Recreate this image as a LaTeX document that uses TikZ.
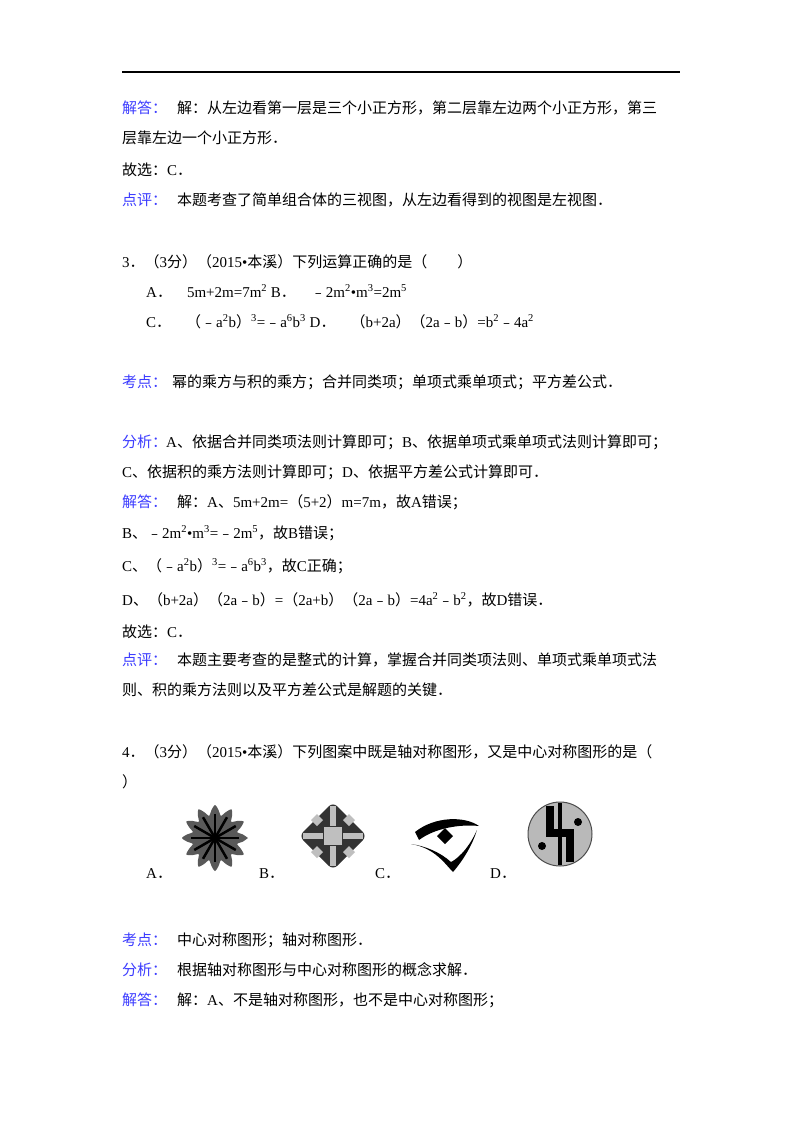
\documentclass[tikz,border=0pt]{standalone}
\usepackage{fontspec}
\setmainfont{Liberation Serif}
\newfontfamily\cjkf{Noto Sans CJK SC}
\newfontfamily\latf{Liberation Serif}
\XeTeXinterchartokenstate=1
\newXeTeXintercharclass\cjkclass
\newcount\cc
\cc="4E00 \loop\XeTeXcharclass\cc=\cjkclass \advance\cc by 1 \ifnum\cc<"A000 \repeat
\cc="3000 \loop\XeTeXcharclass\cc=\cjkclass \advance\cc by 1 \ifnum\cc<"3040 \repeat
\cc="FF00 \loop\XeTeXcharclass\cc=\cjkclass \advance\cc by 1 \ifnum\cc<"FFF0 \repeat
\cc="FE30 \loop\XeTeXcharclass\cc=\cjkclass \advance\cc by 1 \ifnum\cc<"FE70 \repeat
\XeTeXinterchartoks 0 \cjkclass {\cjkf}
\XeTeXinterchartoks 4095 \cjkclass {\cjkf}
\XeTeXinterchartoks \cjkclass 0 {\latf}
\XeTeXinterchartoks \cjkclass 4095 {\latf}
\definecolor{lab}{RGB}{60,60,255}
\newcommand{\su}[1]{\textsuperscript{#1}}
\begin{document}
\begin{tikzpicture}[x=1pt,y=1pt,
  tx/.style={anchor=base west,inner sep=0pt,font=\fontsize{15}{15}\selectfont},
  lb/.style={tx,text=lab}]
\useasboundingbox[fill=white] (0,0) rectangle (800,-1132);
\draw[line width=1.2pt] (122,-72) -- (680,-72);
\node[lb] (l1) at (122,-113) {解答：};
\node[tx] (t1) at (177,-113) {解：从左边看第一层是三个小正方形，第二层靠左边两个小正方形，第三};
\node[tx] (t2) at (122,-143) {层靠左边一个小正方形．};
\node[tx] (t3) at (122,-175) {故选：C．};
\node[lb] (l2) at (122,-205) {点评：};
\node[tx] (t4) at (177,-205) {本题考查了简单组合体的三视图，从左边看得到的视图是左视图．};
\node[tx] (q3) at (122,-267) {3．（3分）（2015•本溪）下列运算正确的是（　　）};
\node[tx] (qa) at (146,-297) {A．　5m+2m=7m\su{2} B．　﹣2m\su{2}•m\su{3}=2m\su{5}};
\node[tx] (qc) at (146,-327) {C．　（﹣a\su{2}b）\su{3}=﹣a\su{6}b\su{3} D．　（b+2a）（2a﹣b）=b\su{2}﹣4a\su{2}};
\node[lb] (l3) at (122,-387) {考点：};
\node[tx] (t5) at (172,-387) {幂的乘方与积的乘方；合并同类项；单项式乘单项式；平方差公式．};
\node[lb] (l4) at (122,-447) {分析：};
\node[tx] (t6) at (166,-447) {A、依据合并同类项法则计算即可；B、依据单项式乘单项式法则计算即可；};
\node[tx] (t7) at (122,-477) {C、依据积的乘方法则计算即可；D、依据平方差公式计算即可．};
\node[lb] (l5) at (122,-507) {解答：};
\node[tx] (t8) at (177,-507) {解：A、5m+2m=（5+2）m=7m，故A错误；};
\node[tx] (t9) at (122,-538) {B、﹣2m\su{2}•m\su{3}=﹣2m\su{5}，故B错误；};
\node[tx] (t10) at (122,-571) {C、（﹣a\su{2}b）\su{3}=﹣a\su{6}b\su{3}，故C正确；};
\node[tx] (t11) at (122,-605) {D、（b+2a）（2a﹣b）=（2a+b）（2a﹣b）=4a\su{2}﹣b\su{2}，故D错误．};
\node[tx] (t12) at (122,-637) {故选：C．};
\node[lb] (l6) at (122,-665) {点评：};
\node[tx] (t13) at (177,-665) {本题主要考查的是整式的计算，掌握合并同类项法则、单项式乘单项式法};
\node[tx] (t14) at (122,-695) {则、积的乘方法则以及平方差公式是解题的关键．};
\node[tx] (q4) at (122,-757) {4．（3分）（2015•本溪）下列图案中既是轴对称图形，又是中心对称图形的是（};
\node[tx] (q4b) at (122,-787) {）};
\node[tx] (fa) at (146,-878) {A．};
\node[tx] (fb) at (259,-878) {B．};
\node[tx] (fc) at (375,-878) {C．};
\node[tx] (fd) at (490,-878) {D．};
% figure A
\begin{scope}[shift={(215,-838)}]
\fill[gray!70!black] plot[smooth cycle,samples=49,domain=0:360] (\x:{28+5*cos(12*\x)});
\foreach \a in {0,30,...,330} \draw[line width=2.5pt,black] (0,0) -- (\a:24);
\end{scope}
% figure B
\begin{scope}[shift={(333,-836)}]
\fill[black!80,rounded corners=6pt] (0,-34) -- (34,0) -- (0,34) -- (-34,0) -- cycle;
\fill[gray!50] (-9,-9) rectangle (9,9);
\foreach \r in {0,90,180,270} {
 \begin{scope}[rotate=\r]
 \fill[gray!50] (-3,10) rectangle (3,30);
 \fill[gray!50] (10,16) -- (16,10) -- (22,16) -- (16,22) -- cycle;
 \end{scope}}
\end{scope}
% figure C
\begin{scope}[shift={(445,-838)}]
\fill[black] (-30,6) .. controls (-10,22) and (20,22) .. (34,12) .. controls (15,14) and (-10,10) .. (-26,-2) -- cycle;
\fill[black] (-34,-6) .. controls (-10,-10) and (0,-26) .. (8,-34) .. controls (20,-20) and (28,-5) .. (32,8) .. controls (22,-14) and (10,-22) .. (6,-24) .. controls (-5,-14) and (-20,-8) .. (-34,-6) -- cycle;
\fill[black] (0,-6) -- (8,2) -- (0,10) -- (-8,2) -- cycle;
\end{scope}
% figure D
\begin{scope}[shift={(560,-834)}]
\fill[gray!55] (0,0) circle (32);
\draw[black!70,line width=1pt] (0,0) circle (32);
\fill[black] (-14,-3) rectangle (14,5);
\fill[black] (-14,5) rectangle (-6,28);
\fill[black] (6,-3) rectangle (14,-28);
\fill[black] (-2,-31) rectangle (2,31);
\fill[black] (-18,-12) circle (4);
\fill[black] (18,12) circle (4);
\end{scope}
\node[lb] (l7) at (122,-945) {考点：};
\node[tx] (t15) at (177,-945) {中心对称图形；轴对称图形．};
\node[lb] (l8) at (122,-975) {分析：};
\node[tx] (t16) at (177,-975) {根据轴对称图形与中心对称图形的概念求解．};
\node[lb] (l9) at (122,-1005) {解答：};
\node[tx] (t17) at (177,-1005) {解：A、不是轴对称图形，也不是中心对称图形；};
\end{tikzpicture}
\end{document}
